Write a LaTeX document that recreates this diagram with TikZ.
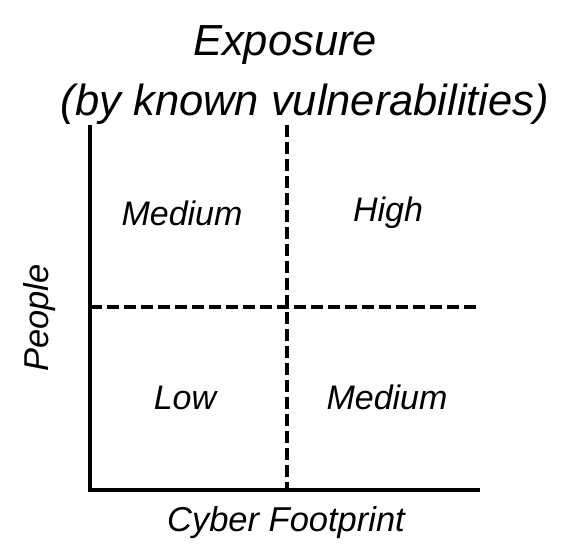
\documentclass[tikz,border=0pt]{standalone}
\usepackage{fontspec}
\setmainfont{Liberation Sans}
\begin{document}
\begin{tikzpicture}[x=1pt,y=-1pt,
  lbl/.style={font=\itshape\fontsize{34}{40}\selectfont},
  axlbl/.style={font=\itshape\fontsize{34.5}{40}\selectfont},
  ttl/.style={font=\itshape\fontsize{43.5}{50}\selectfont},
  grid/.style={line width=4pt,dash pattern=on 12pt off 5pt}]
\useasboundingbox (0,0) rectangle (564,549);

\coordinate (o) at (90,490);
\coordinate (top) at (90,125);
\coordinate (right) at (480,490);
\coordinate (midtop) at (287,125);
\coordinate (midbot) at (287,490);
\coordinate (midleft) at (90,307);
\coordinate (midright) at (480,307);

\node[ttl] (exp) at (285,45) {Exposure};
\node[ttl] (vuln) at (305,104) {(by known vulnerabilities)};

\draw[line width=4pt] (top) -- (o) -- (right);
\draw[grid] (midtop) -- (midbot);
\draw[grid] (midleft) -- (midright);

\node[lbl] (tl) at (182,213) {Medium};
\node[lbl] (tr) at (388,213) {High};
\node[lbl] (bl) at (185,398) {Low};
\node[lbl] (br) at (387,397) {Medium};

\node[axlbl,rotate=90] (ppl) at (40,318) {People};
\node[axlbl] (cyb) at (286,523) {Cyber Footprint};
\end{tikzpicture}
\end{document}
